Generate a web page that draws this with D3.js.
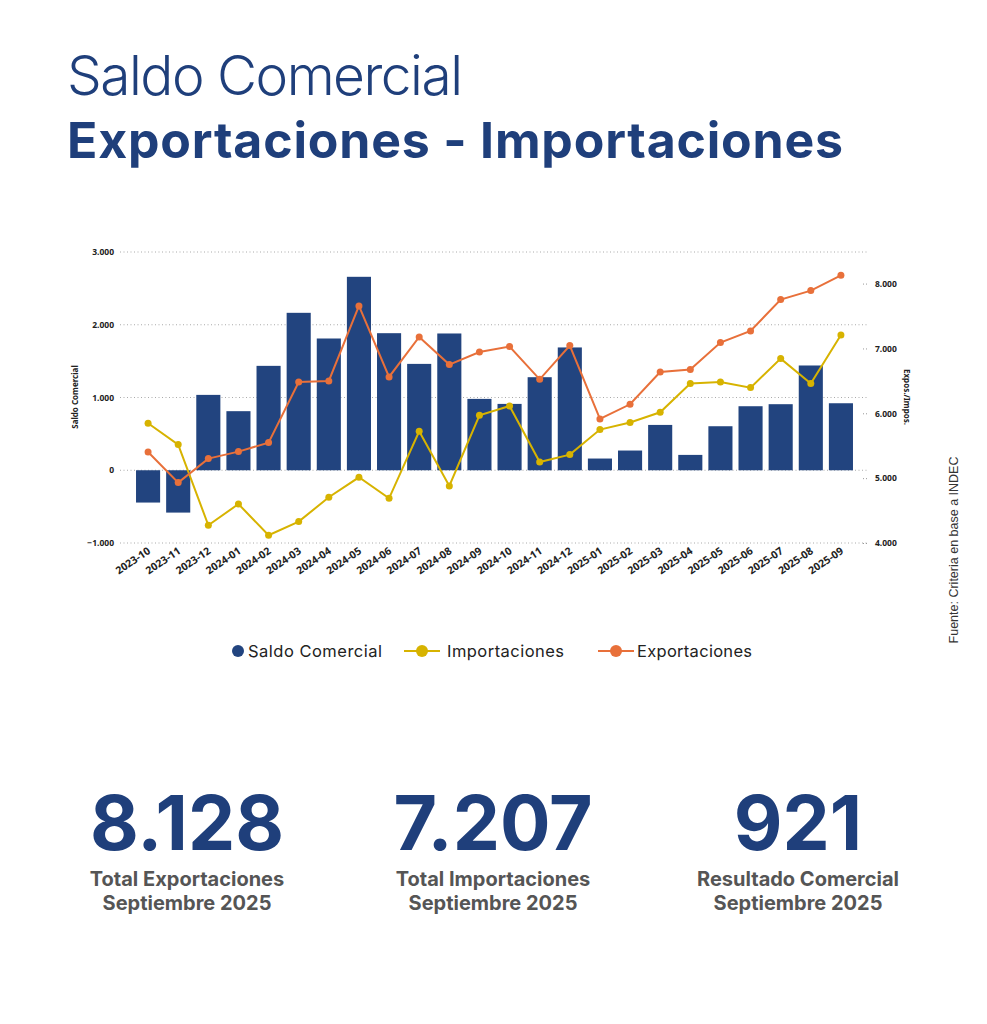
<!DOCTYPE html>
<html>
<head>
<meta charset="utf-8">
<script src="https://cdn.jsdelivr.net/npm/d3@7"></script>
<style>
  body { margin: 0; background: #fff; }
  svg { display: block; }
</style>
</head>
<body>
<div id="chart"></div>
<script>
var width = 987,
    height = 1024;

var months = ["2023-10","2023-11","2023-12","2024-01","2024-02","2024-03","2024-04","2024-05",
  "2024-06","2024-07","2024-08","2024-09","2024-10","2024-11","2024-12","2025-01","2025-02",
  "2025-03","2025-04","2025-05","2025-06","2025-07","2025-08","2025-09"];

var saldo = [-444, -582, 1036, 812, 1435, 2164, 1811, 2659, 1884, 1462, 1880, 981,
  912, 1279, 1688, 161, 271, 623, 211, 605, 880, 908, 1440, 921];

var exportaciones = [5403, 4931, 5301, 5409, 5548, 6483, 6498, 7655, 6560, 7177, 6751, 6945,
  7028, 6524, 7044, 5912, 6139, 6637, 6674, 7090, 7269, 7753, 7892, 8128];

var importaciones = [5846, 5517, 4273, 4601, 4119, 4330, 4705, 5013, 4689, 5722, 4879, 5969,
  6113, 5249, 5363, 5749, 5857, 6015, 6458, 6483, 6396, 6843, 6458, 7207];

var leftTicks = [-1000, 0, 1000, 2000, 3000];
var rightTicks = [4000, 5000, 6000, 7000, 8000];

var navy = "#22447f",
    orange = "#e8703a",
    yellow = "#d7b300",
    titleBlue = "#1f3f7b";

var fmt = d3.formatLocale({decimal: ",", thousands: ".", grouping: [3], currency: ["$", ""]}).format(",.0f");

var svg = d3.select("#chart").append("svg")
    .attr("width", width)
    .attr("height", height);

// ajusta el ancho del texto con letter-spacing
function fitText(sel, w) {
  sel.each(function() {
    var t = d3.select(this);
    var len = this.getComputedTextLength();
    var n = t.text().length;
    t.attr("letter-spacing", ((w - len) / (n - 1)).toFixed(2));
  });
}

// titulos
svg.append("text")
    .attr("x", 67).attr("y", 95)
    .style("font-family", "Inter").style("font-weight", 300)
    .style("font-size", "55px").style("fill", titleBlue)
    .text("Saldo Comercial")
    .call(fitText, 396);

svg.append("text")
    .attr("x", 67).attr("y", 158)
    .style("font-family", "Inter").style("font-weight", 700)
    .style("font-size", "50px").style("fill", titleBlue)
    .text("Exportaciones - Importaciones")
    .call(fitText, 776);

// escalas
var x = d3.scaleBand()
    .domain(months)
    .range([130, 859])
    .padding(0.2);

var yL = d3.scaleLinear()
    .domain([-1000, 3000])
    .range([543, 252]);

var yR = d3.scaleLinear()
    .domain([4000, 8487])
    .range([543, 252]);

var g = svg.append("g");

// grilla
g.selectAll("line.grid")
    .data(leftTicks)
  .enter().append("line")
    .attr("class", "grid")
    .attr("x1", 120).attr("x2", 867)
    .attr("y1", function(d) { return yL(d); })
    .attr("y2", function(d) { return yL(d); })
    .style("stroke", "#aaa")
    .style("stroke-width", 1)
    .style("stroke-dasharray", "1,2.5");

// eje izquierdo
var axL = g.append("g")
    .attr("transform", "translate(117,0)")
    .call(d3.axisLeft(yL).tickValues(leftTicks).tickSize(0).tickPadding(3).tickFormat(fmt));
axL.select(".domain").remove();

// eje derecho
var axR = g.append("g")
    .attr("transform", "translate(863,0)")
    .call(d3.axisRight(yR).tickValues(rightTicks).tickSize(6).tickPadding(6).tickFormat(fmt));
axR.select(".domain").remove();
axR.selectAll(".tick line").style("stroke", "#999").style("stroke-dasharray", "1,2");

g.selectAll(".tick text")
    .style("font-family", "Noto Sans")
    .style("font-weight", 700)
    .style("font-size", "8.5px")
    .style("fill", "#222");

// eje x
var axX = g.append("g")
    .attr("transform", "translate(0,546)")
    .call(d3.axisBottom(x).tickSize(0).tickPadding(0));
axX.select(".domain").remove();
axX.selectAll("text")
    .attr("dy", "0.7em")
    .attr("dx", "-0.1em")
    .attr("transform", "rotate(-34)")
    .style("text-anchor", "end")
    .style("font-family", "Noto Sans")
    .style("font-weight", 700)
    .style("font-size", "10.5px")
    .style("fill", "#222");

// titulos de ejes
g.append("text")
    .attr("transform", "translate(78,397)rotate(-90)")
    .attr("text-anchor", "middle")
    .style("font-family", "Noto Sans").style("font-weight", 700)
    .style("font-size", "8px").style("fill", "#222")
    .text("Saldo Comercial");

g.append("text")
    .attr("transform", "translate(904,397)rotate(90)")
    .attr("text-anchor", "middle")
    .style("font-family", "Noto Sans").style("font-weight", 700)
    .style("font-size", "8px").style("fill", "#222")
    .text("Expos./Impos.");

// barras
g.selectAll("rect.bar")
    .data(saldo)
  .enter().append("rect")
    .attr("class", "bar")
    .attr("x", function(d, i) { return x(months[i]); })
    .attr("width", x.bandwidth())
    .attr("y", function(d) { return yL(Math.max(0, d)); })
    .attr("height", function(d) { return Math.abs(yL(d) - yL(0)); })
    .style("fill", navy);

// lineas
var line = d3.line()
    .x(function(d, i) { return x(months[i]) + x.bandwidth() / 2; })
    .y(function(d) { return yR(d); });

[[importaciones, yellow], [exportaciones, orange]].forEach(function(s) {
  g.append("path")
      .datum(s[0])
      .attr("d", line)
      .style("fill", "none")
      .style("stroke", s[1])
      .style("stroke-width", 2);
  g.selectAll(null)
      .data(s[0])
    .enter().append("circle")
      .attr("cx", function(d, i) { return x(months[i]) + x.bandwidth() / 2; })
      .attr("cy", function(d) { return yR(d); })
      .attr("r", 3.5)
      .style("fill", s[1]);
});

// leyenda
var legend = svg.append("g").attr("transform", "translate(0,651)");
var legendFont = function(sel) {
  sel.style("font-family", "Inter").style("font-size", "16.5px")
    .style("fill", "#222").attr("dy", "0.35em");
};
legend.append("circle").attr("cx", 238).attr("cy", 0).attr("r", 6).style("fill", navy);
legend.append("text").attr("x", 248).attr("y", 0).call(legendFont).text("Saldo Comercial").call(fitText, 134);

legend.append("line").attr("x1", 404).attr("x2", 440).style("stroke", yellow).style("stroke-width", 2);
legend.append("circle").attr("cx", 422).attr("r", 6).style("fill", yellow);
legend.append("text").attr("x", 447).attr("y", 0).call(legendFont).text("Importaciones").call(fitText, 117);

legend.append("line").attr("x1", 598).attr("x2", 634).style("stroke", orange).style("stroke-width", 2);
legend.append("circle").attr("cx", 616).attr("r", 6).style("fill", orange);
legend.append("text").attr("x", 637).attr("y", 0).call(legendFont).text("Exportaciones").call(fitText, 115);

// fuente
svg.append("text")
    .attr("transform", "translate(958,550)rotate(-90)")
    .attr("text-anchor", "middle")
    .style("font-family", "Liberation Sans")
    .style("font-size", "12.5px")
    .style("fill", "#333")
    .text("Fuente: Criteria en base a INDEC");

// totales
var totals = [
  {value: exportaciones[exportaciones.length - 1], label: "Total Exportaciones", cx: 187},
  {value: importaciones[importaciones.length - 1], label: "Total Importaciones", cx: 493},
  {value: saldo[saldo.length - 1], label: "Resultado Comercial", cx: 798}
];

var tg = svg.selectAll("g.total")
    .data(totals)
  .enter().append("g")
    .attr("class", "total")
    .attr("transform", function(d) { return "translate(" + d.cx + ",0)"; });

tg.append("text")
    .attr("y", 850)
    .attr("text-anchor", "middle")
    .style("font-family", "Inter").style("font-weight", 700)
    .style("font-size", "75px").style("fill", titleBlue)
    .text(function(d) { return fmt(d.value); });

tg.append("text")
    .attr("y", 886)
    .attr("text-anchor", "middle")
    .style("font-family", "Inter").style("font-weight", 700)
    .style("font-size", "20px").style("fill", "#555")
    .text(function(d) { return d.label; });

tg.append("text")
    .attr("y", 910)
    .attr("text-anchor", "middle")
    .style("font-family", "Inter").style("font-weight", 700)
    .style("font-size", "20px").style("fill", "#555")
    .text("Septiembre 2025");
</script>
</body>
</html>
